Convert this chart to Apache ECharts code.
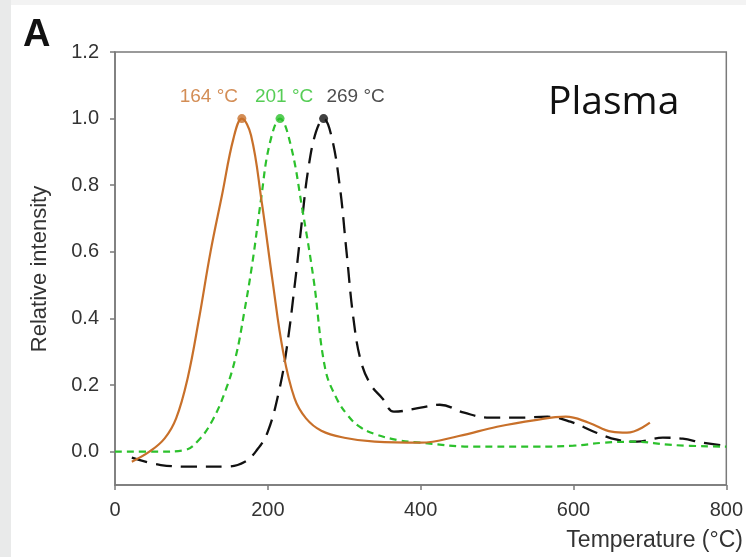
<!DOCTYPE html>
<html>
<head>
<meta charset="utf-8">
<script src="https://cdn.jsdelivr.net/npm/echarts@6/dist/echarts.min.js"></script>
<style>
html,body{margin:0;padding:0;background:#fff;}
#chart{width:746px;height:557px;}
</style>
</head>
<body>
<div id="chart"></div>
<script>
// ---- data ----
var xTicks = [0, 200, 400, 600, 800];
var yTicks = [0, 0.2, 0.4, 0.6, 0.8, 1.0, 1.2];

var orangeX = [22, 45, 65, 80, 95, 110, 125, 140, 155, 166, 178, 192, 206, 220, 235, 250, 270, 300, 340, 400, 450, 500, 550, 590, 620, 650, 670, 700];
var orangeY = [-0.03, 0.0, 0.04, 0.1, 0.22, 0.4, 0.6, 0.77, 0.94, 1.0, 0.95, 0.75, 0.516, 0.3, 0.16, 0.1, 0.063, 0.042, 0.03, 0.027, 0.047, 0.075, 0.095, 0.105, 0.087, 0.06, 0.057, 0.087];

var greenX = [0, 60, 90, 110, 128, 145, 158, 169, 180, 191, 202, 216, 230, 245, 260, 275, 290, 305, 320, 340, 370, 400, 470, 550, 600, 640, 680, 730, 800];
var greenY = [0, 0, 0.004, 0.036, 0.096, 0.186, 0.285, 0.417, 0.57, 0.756, 0.92, 1.0, 0.92, 0.73, 0.516, 0.25, 0.16, 0.108, 0.075, 0.053, 0.035, 0.027, 0.015, 0.015, 0.018, 0.027, 0.03, 0.02, 0.015];

var blackX = [22, 60, 100, 145, 170, 186, 200, 215, 225, 236, 245, 253, 263, 273, 283, 294, 303, 312, 322, 335, 350, 365, 400, 425, 457, 490, 530, 566, 596, 630, 657, 683, 717, 743, 769, 800];
var blackY = [-0.018, -0.04, -0.045, -0.045, -0.03, 0.006, 0.06, 0.186, 0.315, 0.516, 0.7, 0.85, 0.96, 1.0, 0.95, 0.8, 0.6, 0.4, 0.27, 0.2, 0.16, 0.12, 0.132, 0.141, 0.117, 0.102, 0.102, 0.105, 0.09, 0.057, 0.036, 0.03, 0.042, 0.039, 0.027, 0.018];

var peakX = [166, 216, 273];
var peakY = [1.0, 1.0, 1.0];
var peakLabels = ['164 °C', '201 °C', '269 °C'];

var colors = ['#c8702a', '#2cc12c', '#111111'];

function pairs(xs, ys) { return xs.map(function (x, i) { return [x, ys[i]]; }); }

var chart = echarts.init(document.getElementById('chart'), null, {renderer: 'canvas'});
var fontFam = '"Liberation Sans", Arial, Helvetica, sans-serif';
var labelOffsets = [[-33, -2], [4, -2], [32, -2]];

var option = {
  backgroundColor: '#ffffff',
  animation: false,
  grid: {left: 115, right: 16, top: 52, bottom: 72, show: true, borderColor: '#7a7a7a', borderWidth: 1.5, backgroundColor: 'transparent'},
  xAxis: {
    type: 'value', min: 0, max: 800, interval: 200,
    axisLine: {show: true, onZero: false, lineStyle: {color: '#7a7a7a', width: 1.5}},
    axisTick: {show: true, length: 5, lineStyle: {color: '#7a7a7a', width: 1.5}},
    axisLabel: {color: '#333', fontSize: 20, fontFamily: fontFam, margin: 15},
    splitLine: {show: false}
  },
  yAxis: {
    type: 'value', min: -0.1, max: 1.2,
    axisLine: {show: true, onZero: false, lineStyle: {color: '#7a7a7a', width: 1.5}},
    axisTick: {show: true, length: 5, customValues: yTicks, lineStyle: {color: '#7a7a7a', width: 1.5}},
    axisLabel: {color: '#333', fontSize: 20, fontFamily: fontFam, margin: 16, customValues: yTicks,
      formatter: function (v) { return v.toFixed(1); }},
    splitLine: {show: false}
  },
  series: [
    {type: 'line', data: pairs(orangeX, orangeY), smooth: 0.4, showSymbol: false, z: 3,
      lineStyle: {color: colors[0], width: 2.2, type: 'solid'}},
    {type: 'line', data: pairs(greenX, greenY), smooth: 0.4, showSymbol: false, z: 2,
      lineStyle: {color: colors[1], width: 2.2, type: [7, 5]}},
    {type: 'line', data: pairs(blackX, blackY), smooth: 0.4, showSymbol: false, z: 1,
      lineStyle: {color: colors[2], width: 2.3, type: [16, 9]}},
    {type: 'scatter', z: 5, symbolSize: 9,
      data: peakX.map(function (x, i) {
        return {value: [x, peakY[i]], itemStyle: {color: colors[i]},
          label: {show: true, position: 'top', distance: 6, offset: labelOffsets[i],
            formatter: peakLabels[i], color: i === 2 ? '#222' : colors[i],
            fontSize: 19, fontFamily: fontFam}};
      })}
  ],
  graphic: [
    {type: 'rect', left: 0, top: 0, shape: {width: 746, height: 5}, style: {fill: '#f3f3f3'}, z: -10},
    {type: 'rect', left: 0, top: 0, shape: {width: 11, height: 557}, style: {fill: '#e9eaea'}, z: -10},
    {type: 'text', left: 23, top: 17, style: {text: 'A', font: 'bold 38px ' + fontFam, fill: '#111'}},
    {type: 'text', left: 548, top: 83, style: {text: 'Plasma', font: '39px "Open Sans", "Noto Sans", sans-serif', fill: '#111'}},
    {type: 'text', right: 3, top: 529, style: {text: 'Temperature (°C)', font: '23px ' + fontFam, fill: '#333'}},
    {type: 'text', x: 29, y: 269, rotation: Math.PI / 2,
      style: {text: 'Relative intensity', font: '22px ' + fontFam, fill: '#333', align: 'center', verticalAlign: 'top'}}
  ]
};
chart.setOption(option);
</script>
</body>
</html>
